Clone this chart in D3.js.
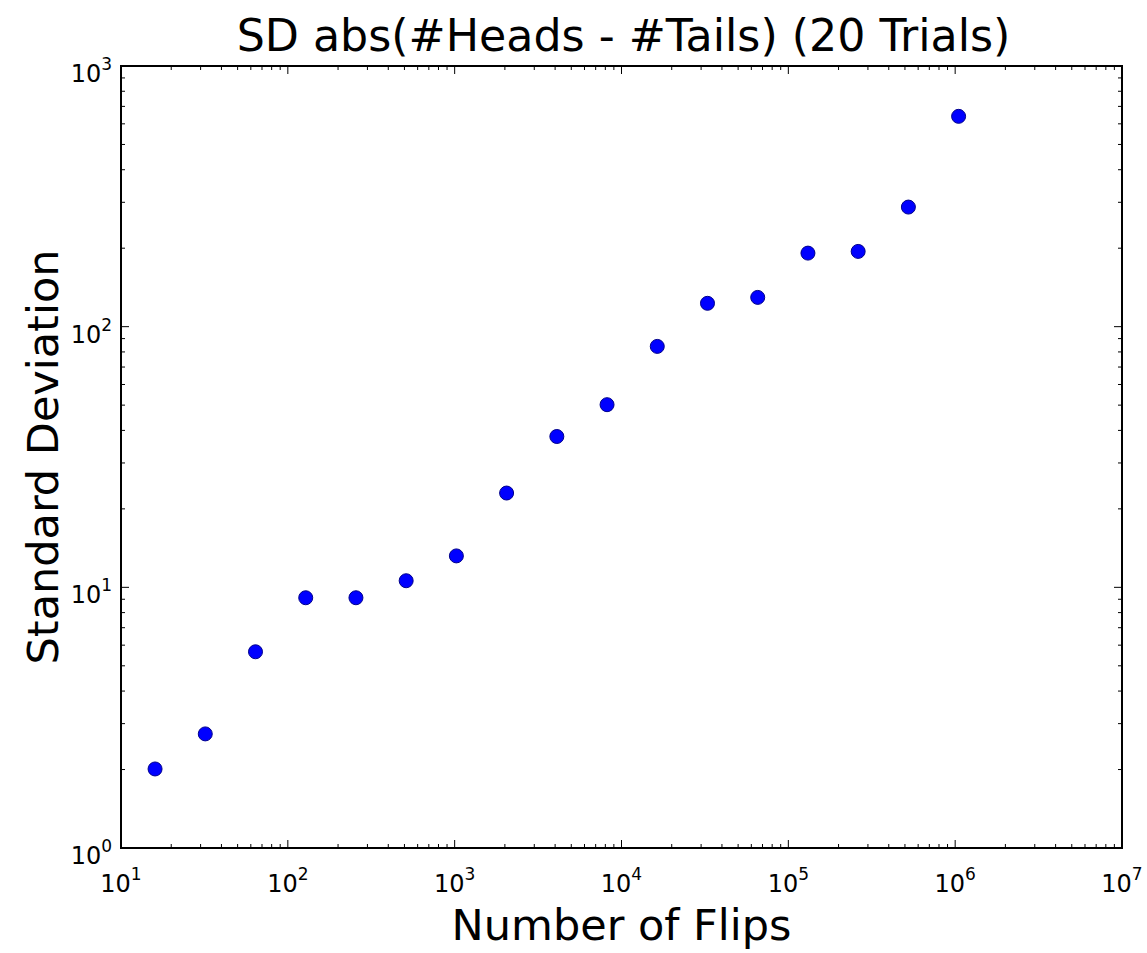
<!DOCTYPE html>
<html>
<head>
<meta charset="utf-8">
<script src="https://cdn.jsdelivr.net/npm/d3@7"></script>
<style>
  html, body { margin: 0; padding: 0; background: #fff; }
  svg { display: block; }
  text { font-family: "DejaVu Sans", sans-serif; fill: #000; }
</style>
</head>
<body>
<script>
// ---- data ----
const flips = [16, 32, 64, 128, 256, 512, 1024, 2048, 4096, 8192, 16384, 32768, 65536, 131072, 262144, 524288, 1048576];
const sdValues = [2.01, 2.74, 5.66, 9.12, 9.12, 10.6, 13.2, 23.0, 37.9, 50.2, 84.0, 122.9, 129.5, 191.5, 194.4, 287.6, 641];
const xTickExponents = [1, 2, 3, 4, 5, 6, 7];
const yTickExponents = [0, 1, 2, 3];
const titleText = "SD abs(#Heads - #Tails) (20 Trials)";
const xLabelText = "Number of Flips";
const yLabelText = "Standard Deviation";

const W = 1147, H = 953;
const margin = { left: 121, right: 25, top: 66, bottom: 105 };
const plotW = W - margin.left - margin.right;
const plotH = H - margin.top - margin.bottom;

const svg = d3.select("body").append("svg").attr("width", W).attr("height", H);

const x = d3.scaleLog().domain([10, 1e7]).range([margin.left, margin.left + plotW]);
const y = d3.scaleLog().domain([1, 1000]).range([margin.top + plotH, margin.top]);

// minor ticks
const minorX = [];
for (let e = 1; e < 7; e++) for (let m = 2; m <= 9; m++) minorX.push(m * Math.pow(10, e));
const minorY = [];
for (let e = 0; e < 3; e++) for (let m = 2; m <= 9; m++) minorY.push(m * Math.pow(10, e));
const majorX = xTickExponents.map(e => Math.pow(10, e));
const majorY = yTickExponents.map(e => Math.pow(10, e));

const g = svg.append("g");
const majLen = 8, minLen = 4;

function ticks(vals, len) {
  g.selectAll(null).data(vals).enter().append("line")
    .attr("x1", d => x(d)).attr("x2", d => x(d))
    .attr("y1", y(1)).attr("y2", y(1) - len)
    .attr("stroke", "#000").attr("stroke-width", 1);
  g.selectAll(null).data(vals).enter().append("line")
    .attr("x1", d => x(d)).attr("x2", d => x(d))
    .attr("y1", y(1000)).attr("y2", y(1000) + len)
    .attr("stroke", "#000").attr("stroke-width", 1);
}
function yticks(vals, len) {
  g.selectAll(null).data(vals).enter().append("line")
    .attr("y1", d => y(d)).attr("y2", d => y(d))
    .attr("x1", x(10)).attr("x2", x(10) + len)
    .attr("stroke", "#000").attr("stroke-width", 1);
  g.selectAll(null).data(vals).enter().append("line")
    .attr("y1", d => y(d)).attr("y2", d => y(d))
    .attr("x1", x(1e7)).attr("x2", x(1e7) - len)
    .attr("stroke", "#000").attr("stroke-width", 1);
}
ticks(minorX, minLen);
ticks(majorX, majLen);
yticks(minorY, minLen);
yticks(majorY, majLen);

// frame
g.append("rect")
  .attr("x", x(10)).attr("y", y(1000))
  .attr("width", x(1e7) - x(10)).attr("height", y(1) - y(1000))
  .attr("fill", "none").attr("stroke", "#000").attr("stroke-width", 2);

// tick labels
const tickFont = 24, supFont = 17;
xTickExponents.forEach(e => {
  const t = svg.append("text")
    .attr("x", x(Math.pow(10, e))).attr("y", y(1) + 44)
    .attr("text-anchor", "middle").attr("font-size", tickFont);
  t.append("tspan").text("10");
  t.append("tspan").attr("font-size", supFont).attr("dy", -12).text(e);
});
yTickExponents.forEach(e => {
  const t = svg.append("text")
    .attr("x", x(10) - 9).attr("y", y(Math.pow(10, e)) + 16)
    .attr("text-anchor", "end").attr("font-size", tickFont);
  t.append("tspan").text("10");
  t.append("tspan").attr("font-size", supFont).attr("dy", -12).text(e);
});

// points
svg.append("g").selectAll("circle").data(flips).enter().append("circle")
  .attr("cx", d => x(d))
  .attr("cy", (d, i) => y(sdValues[i]))
  .attr("r", 7)
  .attr("fill", "#0000ff")
  .attr("stroke", "#00008b").attr("stroke-width", 1);

// title and labels
svg.append("text").attr("x", (x(10) + x(1e7)) / 2 + 2).attr("y", 51)
  .attr("text-anchor", "middle").attr("font-size", 44.3).text(titleText);
svg.append("text").attr("x", (x(10) + x(1e7)) / 2).attr("y", 940)
  .attr("text-anchor", "middle").attr("font-size", 43).text(xLabelText);
svg.append("text")
  .attr("transform", `translate(58, ${(y(1) + y(1000)) / 2}) rotate(-90)`)
  .attr("text-anchor", "middle").attr("font-size", 43).text(yLabelText);
</script>
</body>
</html>
